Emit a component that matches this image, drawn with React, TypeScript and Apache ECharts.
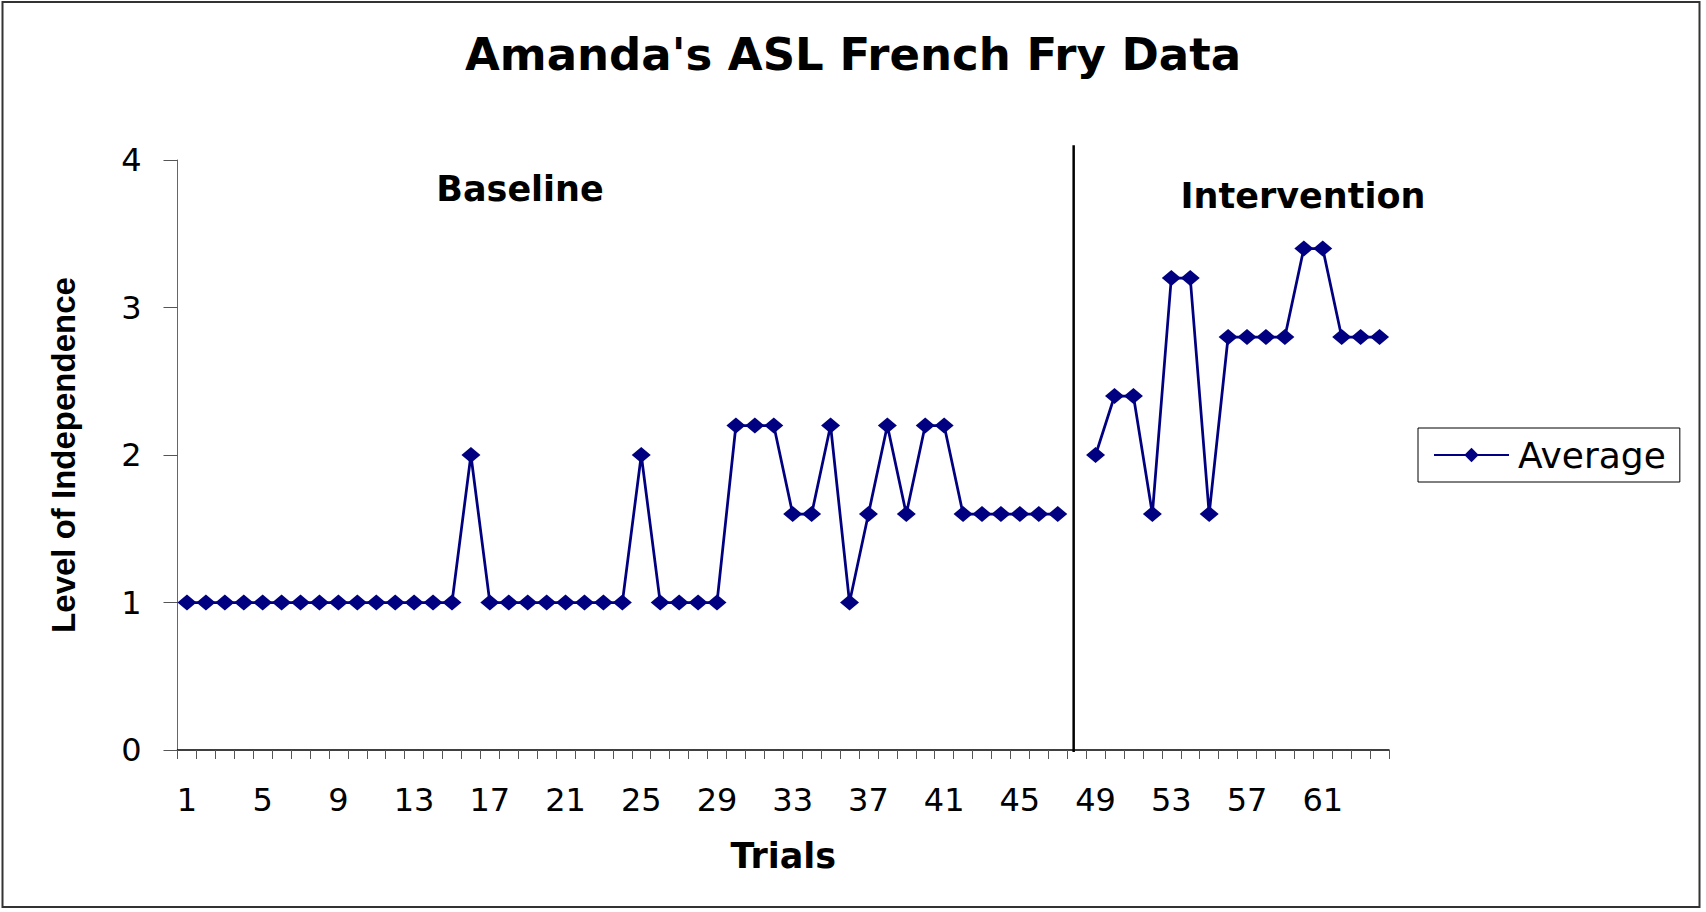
import React, { useEffect, useRef } from "react";
import * as echarts from "echarts";

const trials = [
  "1", "2", "3", "4", "5", "6", "7", "8", "9", "10", "11", "12", "13", "14", "15", "16",
  "17", "18", "19", "20", "21", "22", "23", "24", "25", "26", "27", "28", "29", "30", "31", "32",
  "33", "34", "35", "36", "37", "38", "39", "40", "41", "42", "43", "44", "45", "46", "47", "48",
  "49", "50", "51", "52", "53", "54", "55", "56", "57", "58", "59", "60", "61", "62", "63", "64",
];

const average = [
  1, 1, 1, 1, 1, 1, 1, 1, 1, 1, 1, 1, 1, 1, 1, 2,
  1, 1, 1, 1, 1, 1, 1, 1, 2, 1, 1, 1, 1, 2.2, 2.2, 2.2,
  1.6, 1.6, 2.2, 1, 1.6, 2.2, 1.6, 2.2, 2.2, 1.6, 1.6, 1.6, 1.6, 1.6, 1.6, null,
  2, 2.4, 2.4, 1.6, 3.2, 3.2, 1.6, 2.8, 2.8, 2.8, 2.8, 3.4, 3.4, 2.8, 2.8, 2.8,
];

const phaseChangeTrial = "48";
const phaseLineTop = 4.1;
const yTicks = { min: 0, max: 4, interval: 1 };

const NAVY = "#000080";
const SANS = "DejaVu Sans";

export default function App() {
  const ref = useRef<HTMLDivElement>(null);
  useEffect(() => {
    if (!ref.current) return;
    const chart = echarts.init(ref.current, null, { renderer: "svg" });
    const staticGraphics: any[] = [
      {
        type: "rect",
        id: "frame",
        shape: { x: 2.5, y: 2, width: 1697, height: 905 },
        style: { fill: "none", stroke: "#333", lineWidth: 2 },
        silent: true,
      },
      {
        type: "text",
        id: "baseline",
        x: 520,
        y: 189,
        style: {
          text: "Baseline",
          fontFamily: SANS,
          fontWeight: "bold",
          fontSize: 35,
          fill: "#000",
          align: "center",
          verticalAlign: "middle",
        },
      },
      {
        type: "text",
        id: "intervention",
        x: 1303,
        y: 196,
        style: {
          text: "Intervention",
          fontFamily: SANS,
          fontWeight: "bold",
          fontSize: 35,
          fill: "#000",
          align: "center",
          verticalAlign: "middle",
        },
      },
    ];
    chart.setOption({
      animation: false,
      backgroundColor: "#ffffff",
      title: {
        text: "Amanda's ASL French Fry Data",
        left: "center",
        top: 27,
        textStyle: { fontFamily: SANS, fontWeight: "bold", fontSize: 45, color: "#000" },
      },
      grid: { left: 177.5, right: 317, top: 160, bottom: 162, containLabel: false },
      legend: {
        data: ["Average"],
        left: 1418,
        top: 428,
        orient: "vertical",
        borderColor: "#000",
        borderWidth: 1,
        padding: [9, 14, 9, 15],
        itemWidth: 75,
        itemHeight: 18,
        textStyle: { fontFamily: SANS, fontSize: 36, color: "#000", padding: [0, 0, 0, 4] },
      },
      xAxis: {
        type: "category",
        data: trials,
        boundaryGap: true,
        name: "Trials",
        nameLocation: "middle",
        nameGap: 88,
        nameTextStyle: { fontFamily: SANS, fontWeight: "bold", fontSize: 35, color: "#000" },
        axisLine: { lineStyle: { color: "#000", width: 1.5 } },
        axisTick: { show: true, interval: 0, alignWithLabel: false, length: 9, lineStyle: { color: "#555" } },
        axisLabel: { interval: 3, margin: 34, fontFamily: SANS, fontSize: 32, color: "#000" },
        splitLine: { show: false },
      },
      yAxis: {
        type: "value",
        min: yTicks.min,
        max: yTicks.max,
        interval: yTicks.interval,
        name: "Level of Independence",
        nameLocation: "middle",
        nameRotate: 90,
        nameGap: 98,
        nameTextStyle: { fontFamily: "Liberation Sans", fontWeight: "bold", fontSize: 33, color: "#000" },
        axisLine: { show: true, lineStyle: { color: "#666", width: 1 } },
        axisTick: { show: true, length: 14, lineStyle: { color: "#555" } },
        axisLabel: { margin: 36, fontFamily: SANS, fontSize: 32, color: "#000" },
        splitLine: { show: false },
      },
      series: [
        {
          name: "Average",
          type: "line",
          data: average,
          connectNulls: false,
          showSymbol: true,
          showAllSymbol: true,
          symbol: "diamond",
          symbolSize: [19, 16],
          itemStyle: { color: NAVY },
          lineStyle: { color: NAVY, width: 2.75 },
        },
      ],
      graphic: staticGraphics,
    });
    const [lx, ly0] = chart.convertToPixel({ gridIndex: 0 }, [phaseChangeTrial, yTicks.min]) as number[];
    const ly1 = chart.convertToPixel({ yAxisIndex: 0 }, phaseLineTop) as number;
    chart.setOption({
      graphic: [
        ...staticGraphics,
        {
          type: "line",
          id: "phaseLine",
          shape: { x1: lx - 3, y1: ly0 + 2, x2: lx - 3, y2: ly1 },
          style: { stroke: "#000", lineWidth: 2.5 },
          silent: true,
          z: 10,
        },
      ],
    });
    return () => chart.dispose();
  }, []);
  return (
    <div
      ref={ref}
      style={{ position: "fixed", left: 0, top: 0, width: 1706, height: 912 }}
    />
  );
}
